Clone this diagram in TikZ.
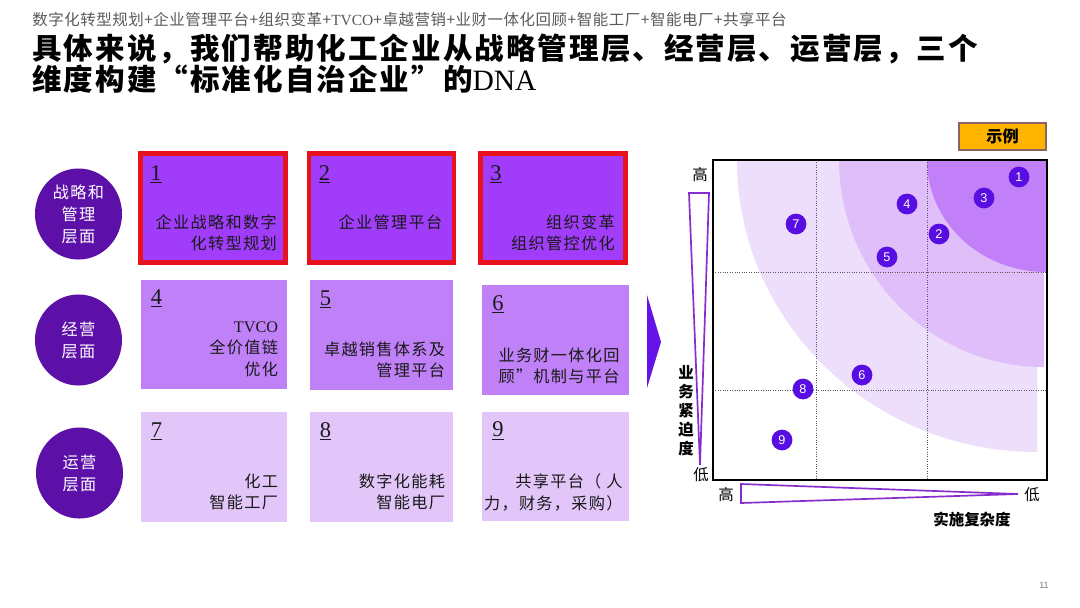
\documentclass[tikz,border=0pt]{standalone}
\usepackage{fontspec}
\setmainfont{Liberation Serif}
\setsansfont{Liberation Sans}
\newfontfamily\cjk{Noto Sans CJK SC}
\newfontfamily\cjksp{Noto Sans CJK SC}[LetterSpace=8]
\newfontfamily\cjkhead{Noto Sans CJK SC}[LetterSpace=7]
\newfontfamily\cjksub{Noto Sans CJK SC}[LetterSpace=3.5]
\usetikzlibrary{positioning,shapes.geometric}

\definecolor{levelc}{RGB}{92,16,168}
\definecolor{rowA}{RGB}{160,60,250}
\definecolor{rowB}{RGB}{192,128,248}
\definecolor{rowC}{RGB}{226,198,250}
\definecolor{redc}{RGB}{232,18,30}
\definecolor{banddk}{RGB}{194,128,248}
\definecolor{bandmd}{RGB}{224,190,250}
\definecolor{bandlt}{RGB}{237,223,252}
\definecolor{dotc}{RGB}{88,14,226}
\definecolor{chevc}{RGB}{100,20,232}
\definecolor{axisc}{RGB}{135,45,205}
\definecolor{exfill}{RGB}{255,180,0}
\definecolor{exdraw}{RGB}{140,100,100}
\definecolor{subc}{RGB}{90,90,90}

\begin{document}
\begin{tikzpicture}[x=0.025cm, y=-0.025cm,
        levelnode/.style={ellipse, fill=levelc, text=white, minimum width=2.175cm, minimum height=2.275cm, inner sep=0pt, align=center, font=\cjksp\fontsize{11.5}{15.6}\selectfont},
        keybox/.style={rectangle, fill=rowA, draw=redc, line width=3.5pt, minimum width=3.625cm, minimum height=2.725cm},
        midbox/.style={rectangle, fill=rowB, minimum width=3.65cm, minimum height=2.725cm},
        lowbox/.style={rectangle, fill=rowC, minimum width=3.65cm, minimum height=2.725cm},
        num/.style={inner sep=0pt, text=black!90, font=\fontsize{16}{18}\selectfont},
        desc/.style={inner sep=0pt, align=right, text=black!90, font=\cjksp\fontsize{11.5}{15.3}\selectfont},
        heading/.style={anchor=west, inner sep=0pt, font=\cjkhead\bfseries\fontsize{21}{26}\selectfont},
        numdot/.style={circle, fill=dotc, text=white, minimum size=0.52cm, inner sep=0pt, font=\sffamily\fontsize{9}{10}\selectfont},
        axistri/.style={draw=axisc, line width=1.2pt, line join=miter},
        gridline/.style={densely dotted, draw=black!65, line width=0.7pt},
        lbl/.style={inner sep=0pt, font=\cjk\fontsize{11}{13.5}\selectfont},
        exbox/.style={rectangle, draw=exdraw, fill=exfill, line width=1pt, minimum width=2.175cm, minimum height=0.675cm, font=\cjk\bfseries\fontsize{11.5}{13}\selectfont}
    ]
        \fill[white] (0,0) rectangle (1080,607);
        \useasboundingbox (0,0) rectangle (1080,607);

        % heading
        \node[anchor=west, inner sep=0pt, text=subc, font=\cjksub\fontsize{11}{13}\selectfont] (sub) at (32,20) {数字化转型规划+企业管理平台+组织变革+{\rmfamily TVCO}+卓越营销+业财一体化回顾+智能工厂+智能电厂+共享平台};
        \node[heading] (title1) at (32,49) {具体来说，我们帮助化工企业从战略管理层、经营层、运营层，三个};
        \node[heading] (title2) at (32,79) {维度构建“标准化自治企业”的{\rmfamily\mdseries DNA}};

        % levels
        \node[levelnode] (l1) at (78.5,214) {战略和\\管理\\层面};
        \node[levelnode] (l2) at (78.5,340) {经营\\层面};
        \node[levelnode] (l3) at (79.5,473) {运营\\层面};

        % boxes
        \node[keybox] (b1) at (213,208) {};
        \node[keybox] (b2) at (381.5,208) {};
        \node[keybox] (b3) at (553,208) {};
        \node[midbox] (b4) at (214,334.5) {};
        \node[midbox, minimum width=3.575cm] (b5) at (381.5,335) {};
        \node[midbox] (b6) at (555.5,340) {};
        \node[lowbox] (b7) at (214,467) {};
        \node[lowbox, minimum width=3.575cm] (b8) at (381.5,467) {};
        \node[lowbox] (b9) at (555.5,466.5) {};

        \node[num, below right=0.35cm and 0.3cm of b1.north west] (n1) {\underline{1}};
        \node[num, below right=0.35cm and 0.3cm of b2.north west] (n2) {\underline{2}};
        \node[num, below right=0.35cm and 0.3cm of b3.north west] (n3) {\underline{3}};
        \node[num, below right=0.25cm and 0.25cm of b4.north west] (n4) {\underline{4}};
        \node[num, below right=0.25cm and 0.25cm of b5.north west] (n5) {\underline{5}};
        \node[num, below right=0.25cm and 0.25cm of b6.north west] (n6) {\underline{6}};
        \node[num, below right=0.25cm and 0.25cm of b7.north west] (n7) {\underline{7}};
        \node[num, below right=0.25cm and 0.25cm of b8.north west] (n8) {\underline{8}};
        \node[num, below right=0.25cm and 0.25cm of b9.north west] (n9) {\underline{9}};

        \node[desc, below left=1.575cm and 0.275cm of b1.north east] (t1) {企业战略和数字\\化转型规划};
        \node[desc, below left=1.575cm and 0.35cm of b2.north east] (t2) {企业管理平台};
        \node[desc, below left=1.575cm and 0.325cm of b3.north east] (t3) {组织变革\\组织管控优化};
        \node[desc, below left=1.04cm and 0.225cm of b4.north east] (t4) {{\rmfamily TVCO}\\全价值链\\优化};
        \node[desc, below left=1.525cm and 0.2cm of b5.north east] (t5) {卓越销售体系及\\管理平台};
        \node[desc, below left=1.55cm and 0.225cm of b6.north east] (t6) {业务财一体化回\\顾”机制与平台};
        \node[desc, below left=1.525cm and 0.225cm of b7.north east] (t7) {化工\\智能工厂};
        \node[desc, below left=1.525cm and 0.2cm of b8.north east] (t8) {数字化能耗\\智能电厂};
        \node[desc, below left=1.55cm and 0.15cm of b9.north east] (t9) {共享平台（ 人\\力，财务，采购）};

        % arrow
        \fill[chevc] (647,295) -- (661,342) -- (647,388) -- cycle;

        % matrix
        \begin{scope}
            \clip (713,160) rectangle (1047,480);
            \fill[bandlt] (1037,160) -- (737,160) arc[start angle=180, end angle=90, x radius=300, y radius=292] -- cycle;
            \fill[bandmd] (1044,160) -- (839,160) arc[start angle=180, end angle=90, x radius=205, y radius=207] -- cycle;
            \fill[banddk] (1046,160) -- (927,160) arc[start angle=180, end angle=90, x radius=119, y radius=112] -- cycle;
        \end{scope}
        \draw[gridline] (816,160) -- (816,480);
        \draw[gridline] (927,160) -- (927,480);
        \draw[gridline] (713,272) -- (1047,272);
        \draw[gridline] (713,390) -- (1047,390);
        \draw[line width=2.1pt] (713,160) rectangle (1047,480);

        \foreach \n/\x/\y in {1/1019/177, 2/939/234, 3/984/198, 4/907/204, 5/887/257, 6/862/375, 7/796/224, 8/803/389, 9/782/440}
            \node[numdot] (d\n) at (\x,\y) {\n};

        \node[exbox] (ex) at (1002.5,136.5) {示例};

        % axes
        \draw[axistri] (689,193) -- (709,193) -- (700,465) -- cycle;
        \draw[axistri] (741,484) -- (741,503) -- (1018,494) -- cycle;
        \node[lbl] (yhigh) at (700,175) {高};
        \node[lbl] (ylow) at (701,475) {低};
        \node[lbl, align=center, font=\cjk\bfseries\fontsize{11}{13.5}\selectfont] (ytitle) at (686,411) {业\\务\\紧\\迫\\度};
        \node[lbl] (xhigh) at (726,495) {高};
        \node[lbl] (xlow) at (1032,495) {低};
        \node[lbl, font=\cjk\bfseries\fontsize{11}{13.5}\selectfont] (xtitle) at (972,519) {实施复杂度};

        \node[text=black!50, font=\sffamily\fontsize{6.5}{8}\selectfont] (pg) at (1044,585) {11};
    \end{tikzpicture}
\end{document}
